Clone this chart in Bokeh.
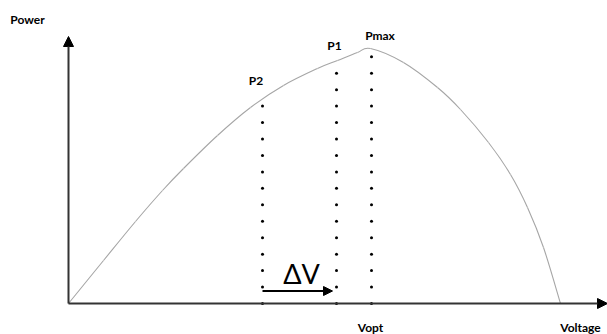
import numpy as np
from bokeh.plotting import figure
from bokeh.models import Arrow, NormalHead, Range1d
from bokeh.core.properties import value
from bokeh.embed import file_html
from bokeh.resources import INLINE

# P-V curve (arbitrary units)
voltage = [0, 35, 67, 94, 115, 149, 182, 215, 249, 269, 289, 302,
           335, 369, 392, 420, 442, 459, 475, 492]
power = [0, 43, 82, 113, 135, 168, 196, 218, 235, 243, 251, 255,
         241, 216, 194, 161, 129, 96, 56, 0]

# operating points and their dotted guide lines
point_names = ["P2", "P1", "Pmax"]
point_v = [194, 268, 303]
guide_top = [198, 231, 247]
dot_step = 16.45

delta_v_start = 194
delta_v_end = 264
delta_v_level = 12.5

x_axis_end = 539
y_axis_end = 267

FONT = "Lato"

p = figure(width=607, height=334, output_backend="svg", toolbar_location=None,
           x_range=Range1d(-68, 539), y_range=Range1d(-31, 303),
           x_axis_type=None, y_axis_type=None, min_border=0)
p.outline_line_color = None
p.grid.visible = False
p.background_fill_color = "white"

# smooth curve through the read points (Catmull-Rom rendered as Bezier segments)
vx = np.array(voltage, dtype=float)
py = np.array(power, dtype=float)
xe = np.concatenate([[vx[0]], vx, [vx[-1]]])
ye = np.concatenate([[py[0]], py, [py[-1]]])
n = len(vx) - 1
x0 = vx[:-1]; y0 = py[:-1]; x1 = vx[1:]; y1 = py[1:]
cx0 = x0 + (xe[2:n + 2] - xe[0:n]) / 6.0
cy0 = y0 + (ye[2:n + 2] - ye[0:n]) / 6.0
cx1 = x1 - (xe[3:n + 3] - xe[1:n + 1]) / 6.0
cy1 = y1 - (ye[3:n + 3] - ye[1:n + 1]) / 6.0
p.bezier(x0=x0, y0=y0, x1=x1, y1=y1, cx0=cx0, cy0=cy0, cx1=cx1, cy1=cy1,
         line_color="#a6a6a6", line_width=1.1)

# dotted guides
for v, top in zip(point_v, guide_top):
    ys = np.arange(0, top + 0.1, dot_step)
    p.scatter(np.full(len(ys), v), ys, size=3, color="black", line_width=0)

# axes
p.add_layout(Arrow(x_start=0, y_start=0, x_end=x_axis_end, y_end=0,
                   line_color="#333333", line_width=2,
                   end=NormalHead(size=10, fill_color="black", line_color="black")))
p.add_layout(Arrow(x_start=0, y_start=0, x_end=0, y_end=y_axis_end,
                   line_color="#333333", line_width=2,
                   end=NormalHead(size=10, fill_color="black", line_color="black")))

# delta V arrow
p.add_layout(Arrow(x_start=delta_v_start, y_start=delta_v_level, x_end=delta_v_end, y_end=delta_v_level,
                   line_color="black", line_width=2,
                   end=NormalHead(size=9, fill_color="black", line_color="black")))

# labels
lab_text = ["Power", "P2", "P1", "Pmax", "Vopt", "Voltage"]
lab_x = [-41, 187.5, 266, 311.5, 302, 512]
lab_y = [284, 223, 258.5, 268.5, -24, -24]
p.text(lab_x, lab_y, text=lab_text, text_font=value(FONT), text_font_style="bold",
       text_font_size="12px", text_align="center", text_baseline="middle", text_color="black")

p.text([233], [30.5], text=["ΔV"], text_font=value(FONT), text_font_size="27px",
       text_align="center", text_baseline="middle", text_color="black")

open("out.html", "w").write(file_html(p, INLINE))
